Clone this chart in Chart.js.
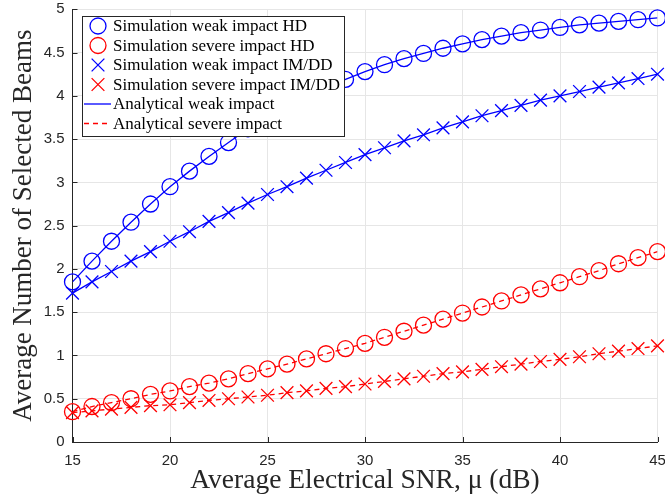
<!DOCTYPE html>
<html>
<head>
<meta charset="utf-8">
<script src="https://cdn.jsdelivr.net/npm/chart.js@4.4.1/dist/chart.umd.min.js"></script>
<style>
html, body { margin: 0; padding: 0; background: #fff; }
</style>
</head>
<body>
<canvas id="beamChart" width="665" height="499"></canvas>
<script>
// SNR values (dB)
var snr = [15,16,17,18,19,20,21,22,23,24,25,26,27,28,29,30,31,32,33,34,35,36,37,38,39,40,41,42,43,44,45];

// average number of selected beams
var weakHD     = [1.85,2.09,2.32,2.54,2.75,2.95,3.13,3.30,3.46,3.62,3.75,3.87,3.98,4.09,4.19,4.28,4.36,4.43,4.49,4.55,4.60,4.65,4.69,4.73,4.76,4.79,4.82,4.84,4.86,4.88,4.90];
var severeHD   = [0.35,0.41,0.455,0.50,0.55,0.59,0.64,0.68,0.73,0.79,0.845,0.90,0.96,1.02,1.08,1.14,1.21,1.28,1.35,1.42,1.49,1.56,1.63,1.70,1.77,1.84,1.91,1.98,2.06,2.13,2.20];
var weakIMDD   = [1.72,1.85,1.97,2.09,2.20,2.32,2.43,2.55,2.65,2.76,2.86,2.95,3.05,3.14,3.23,3.32,3.40,3.48,3.55,3.63,3.70,3.77,3.83,3.89,3.95,4.00,4.05,4.10,4.15,4.20,4.25];
var severeIMDD = [0.34,0.36,0.38,0.40,0.42,0.43,0.455,0.48,0.50,0.52,0.54,0.57,0.59,0.62,0.64,0.67,0.70,0.73,0.76,0.79,0.81,0.84,0.87,0.90,0.93,0.955,0.985,1.02,1.05,1.08,1.11];

var blue = '#0000ff', red = '#ff0000', axisCol = '#262626', gridCol = '#e6e6e6';
var serif = '"Liberation Serif", "Times New Roman", serif';
var sans = '"Liberation Sans", Arial, sans-serif';

function pts(vals) {
    return snr.map(function(s, i) { return {x: s, y: vals[i]}; });
}

function marker(label, vals, color, style, r) {
    return {
        label: label, data: pts(vals), showLine: false, clip: false,
        pointStyle: style, pointRadius: r, pointHoverRadius: r,
        borderColor: color, pointBorderColor: color, pointBorderWidth: 1.3,
        pointBackgroundColor: 'rgba(0,0,0,0)', backgroundColor: 'rgba(0,0,0,0)'
    };
}

function curve(label, vals, color, dash, noLegend) {
    return {
        label: label, data: pts(vals), pointRadius: 0, pointHoverRadius: 0,
        borderColor: color, borderWidth: 1.3, borderDash: dash,
        tension: 0, fill: false, noLegend: noLegend
    };
}

// inward MATLAB-style tick marks
var innerTicks = {
    id: 'innerTicks',
    beforeDatasetsDraw: function(chart) {
        var ctx = chart.ctx, a = chart.chartArea, xs = chart.scales.x, ys = chart.scales.y;
        ctx.save();
        ctx.strokeStyle = axisCol;
        ctx.lineWidth = 1;
        ctx.beginPath();
        xs.ticks.forEach(function(t) {
            var px = Math.round(xs.getPixelForValue(t.value)) + 0.5;
            ctx.moveTo(px, a.bottom); ctx.lineTo(px, a.bottom - 5);
        });
        ys.ticks.forEach(function(t) {
            var py = Math.round(ys.getPixelForValue(t.value)) + 0.5;
            ctx.moveTo(a.left, py); ctx.lineTo(a.left + 5, py);
        });
        ctx.stroke();
        ctx.restore();
    }
};

// legend box drawn inside the plot, top left
var legendBox = {
    id: 'legendBox',
    afterDraw: function(chart) {
        var ctx = chart.ctx;
        var items = chart.data.datasets.filter(function(d) { return !d.noLegend; });
        var x0 = 82, y0 = 16, w = 262, h = 120, row = 19.5;
        ctx.save();
        ctx.fillStyle = '#fff';
        ctx.fillRect(x0, y0, w, h);
        ctx.strokeStyle = axisCol;
        ctx.lineWidth = 1;
        ctx.strokeRect(x0 + 0.5, y0 + 0.5, w, h);
        ctx.font = '17px ' + serif;
        ctx.textBaseline = 'middle';
        items.forEach(function(d, i) {
            var cy = y0 + 10 + i * row, cx = 98;
            ctx.strokeStyle = d.borderColor;
            ctx.lineWidth = 1.3;
            ctx.setLineDash([]);
            ctx.beginPath();
            if (d.showLine === false && d.pointStyle === 'circle') {
                ctx.arc(cx, cy, d.pointRadius, 0, Math.PI * 2);
            } else if (d.showLine === false) {
                var o = d.pointRadius * Math.SQRT1_2;
                ctx.moveTo(cx - o, cy - o); ctx.lineTo(cx + o, cy + o);
                ctx.moveTo(cx - o, cy + o); ctx.lineTo(cx + o, cy - o);
            } else {
                ctx.setLineDash(d.borderDash || []);
                ctx.moveTo(84, cy); ctx.lineTo(111, cy);
            }
            ctx.stroke();
            ctx.setLineDash([]);
            ctx.fillStyle = '#000';
            ctx.fillText(d.label, 113, cy + 1);
        });
        ctx.restore();
    }
};

new Chart(document.getElementById('beamChart').getContext('2d'), {
    type: 'line',
    data: {
        datasets: [
            marker('Simulation weak impact HD', weakHD, blue, 'circle', 8),
            marker('Simulation severe impact HD', severeHD, red, 'circle', 8),
            marker('Simulation weak impact IM/DD', weakIMDD, blue, 'crossRot', 9),
            marker('Simulation severe impact IM/DD', severeIMDD, red, 'crossRot', 9),
            curve('Analytical weak impact', weakHD, blue, [], false),
            curve('Analytical weak impact', weakIMDD, blue, [], true),
            curve('Analytical severe impact', severeHD, red, [5, 4], false),
            curve('Analytical severe impact', severeIMDD, red, [5, 4], true)
        ]
    },
    options: {
        responsive: false,
        animation: false,
        layout: {
            autoPadding: false,
            padding: { left: 0, right: 7.5, top: 9.3, bottom: 0 }
        },
        plugins: {
            legend: { display: false },
            tooltip: { enabled: false }
        },
        scales: {
            x: {
                type: 'linear', min: 15, max: 45,
                ticks: { stepSize: 5, padding: 10, color: axisCol, font: { family: sans, size: 15 } },
                grid: { color: gridCol, drawTicks: false },
                border: { color: axisCol, width: 1 },
                title: {
                    display: true, text: 'Average Electrical SNR, \u03bc (dB)',
                    color: axisCol, font: { family: serif, size: 27.5 },
                    padding: { top: 0, bottom: 2 }
                },
                afterFit: function(s) { s.height = 57; s.paddingLeft = 0; s.paddingRight = 0; }
            },
            y: {
                min: 0, max: 5,
                ticks: {
                    stepSize: 0.5, padding: 8, color: axisCol, font: { family: sans, size: 15 },
                    callback: function(v) { return String(Math.round(v * 10) / 10); }
                },
                grid: { color: gridCol, drawTicks: false },
                border: { color: axisCol, width: 1 },
                title: {
                    display: true, text: 'Average Number of Selected Beams',
                    color: axisCol, font: { family: serif, size: 27 },
                    padding: { top: 8, bottom: 0 }
                },
                afterFit: function(s) { s.width = 72.5; s.paddingTop = 0; s.paddingBottom = 0; }
            }
        }
    },
    plugins: [innerTicks, legendBox]
});
</script>
</body>
</html>
